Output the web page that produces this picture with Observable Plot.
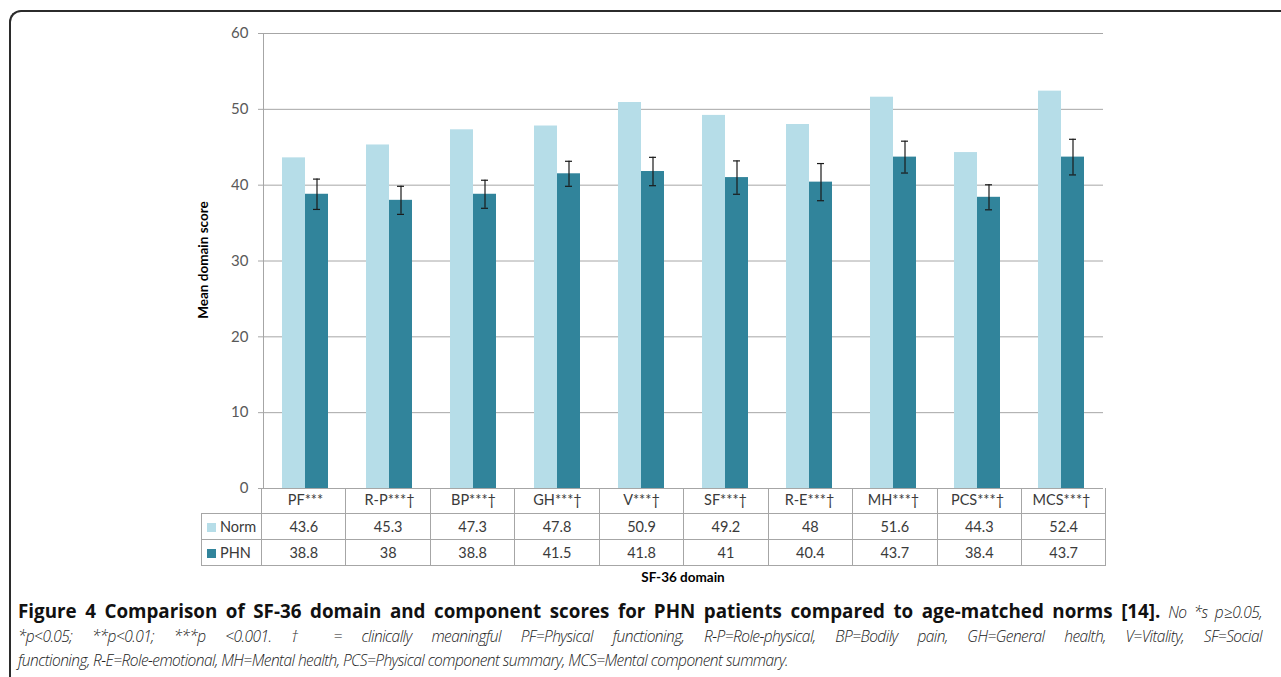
<!DOCTYPE html>
<html>
<head>
<meta charset="utf-8">
<script src="https://cdn.jsdelivr.net/npm/d3@7"></script>
<script src="https://cdn.jsdelivr.net/npm/@observablehq/plot@0.6"></script>
<style>
  html, body { margin: 0; padding: 0; background: #fff; }
  #page { position: relative; width: 1281px; height: 677px; overflow: hidden; font-family: Lato, "Open Sans", sans-serif; }
  #frame { position: absolute; left: 9px; top: 10px; width: 1400px; height: 800px; border-top: 2px solid #2b2b2b; border-left: 2px solid #2b2b2b; border-top-left-radius: 12px; box-sizing: border-box; }
  #chart { position: absolute; left: 0; top: 0; }
  #chart svg { background: transparent !important; }
  #ytitle { position: absolute; left: 203px; top: 260px; transform: translate(-50%, -50%) rotate(-90deg); font-weight: bold; font-size: 13.5px; color: #000; white-space: nowrap; }
  #xtitle { position: absolute; left: 683px; top: 577px; transform: translate(-50%, -50%); font-weight: bold; font-size: 13.5px; color: #000; white-space: nowrap; }
  #tbl { position: absolute; left: 201px; top: 488px; border-collapse: collapse; table-layout: fixed; width: 904.5px; font-size: 14.5px; color: #3a3a3a; z-index: 2; }
  #tbl td { border: 1px solid #a6a6a6; height: 25.7px; padding: 0; text-align: center; box-sizing: border-box; }
  #tbl td.leg { text-align: left; padding-left: 5px; white-space: nowrap; }
  .sw { display: inline-block; width: 9px; height: 9px; margin-right: 4px; vertical-align: 0px; }
  #caption { position: absolute; left: 18px; top: 599px; width: 1244px; font-family: "Open Sans", sans-serif; line-height: 24.5px; color: #222; }
  #caption div { white-space: nowrap; height: 24.5px; }
  #caption div.j { text-align: justify; text-align-last: justify; white-space: normal; }
  #caption b { font-weight: 700; color: #111; font-size: 18.8px; }
  #caption i { font-weight: 300; font-size: 15.5px; letter-spacing: -0.55px; }
</style>
</head>
<body>
<div id="page">
  <div id="frame"></div>
  <div id="chart"></div>
  <div id="ytitle">Mean domain score</div>
  <table id="tbl"></table>
  <div id="xtitle">SF-36 domain</div>
  <div id="caption"></div>
</div>
<script>
const categories = ["PF***", "R-P***†", "BP***†", "GH***†", "V***†", "SF***†", "R-E***†", "MH***†", "PCS***†", "MCS***†"];
const seriesNames = ["Norm", "PHN"];
const normValues = [43.6, 45.3, 47.3, 47.8, 50.9, 49.2, 48, 51.6, 44.3, 52.4];
const phnValues = [38.8, 38, 38.8, 41.5, 41.8, 41, 40.4, 43.7, 38.4, 43.7];
const phnError = [2.0, 1.85, 1.85, 1.65, 1.87, 2.2, 2.45, 2.1, 1.65, 2.35];
const normLabels = ["43.6", "45.3", "47.3", "47.8", "50.9", "49.2", "48", "51.6", "44.3", "52.4"];
const phnLabels = ["38.8", "38", "38.8", "41.5", "41.8", "41", "40.4", "43.7", "38.4", "43.7"];
const yTicks = [0, 10, 20, 30, 40, 50, 60];
const seriesColors = ["#b6dde8", "#31849b"];

const rows = [];
categories.forEach((c, i) => {
  rows.push({cat: c, series: "Norm", value: normValues[i]});
  rows.push({cat: c, series: "PHN", value: phnValues[i], lo: phnValues[i] - phnError[i], hi: phnValues[i] + phnError[i]});
});
const phnRows = rows.filter(d => d.series === "PHN");

const chart = Plot.plot({
  width: 1281,
  height: 515,
  marginLeft: 261,
  marginRight: 175.5,
  marginTop: 33,
  marginBottom: 27,
  style: {background: "transparent", fontFamily: "Lato, 'Open Sans', sans-serif"},
  fx: {domain: categories, padding: 0, label: null},
  x: {domain: seriesNames, paddingInner: 0, paddingOuter: 0.76, axis: null},
  y: {domain: [0, 60], label: null},
  color: {domain: seriesNames, range: seriesColors},
  marks: [
    Plot.gridY(yTicks, {stroke: "#a6a6a6", strokeOpacity: 1}),
    Plot.frame({anchor: "left", facetAnchor: "left", stroke: "#a6a6a6"}),
    Plot.axisY(yTicks, {tickSize: 5, tickPadding: 10, fontSize: 15, stroke: "#a6a6a6", fill: "#595959", label: null}),
    Plot.barY(rows, {fx: "cat", x: "series", y: "value", fill: "series"}),
    Plot.ruleX(phnRows, {fx: "cat", x: "series", y1: "lo", y2: "hi", stroke: "#1a1a1a", strokeWidth: 1.2}),
    Plot.tickY(phnRows, {fx: "cat", x: "series", y: "lo", stroke: "#1a1a1a", strokeWidth: 1.2, insetLeft: 8, insetRight: 8}),
    Plot.tickY(phnRows, {fx: "cat", x: "series", y: "hi", stroke: "#1a1a1a", strokeWidth: 1.2, insetLeft: 8, insetRight: 8}),
    Plot.axisFx({anchor: "bottom", tickSize: 0, tickPadding: 6, fontSize: 14.5, fill: "#3a3a3a", label: null})
  ]
});
document.getElementById("chart").appendChild(chart);

// data table under the chart
const tbl = document.getElementById("tbl");
const cg = document.createElement("colgroup");
let colHtml = '<col style="width:60px">';
categories.forEach(() => colHtml += '<col style="width:84.45px">');
cg.innerHTML = colHtml;
tbl.appendChild(cg);
const head = document.createElement("tr");
head.innerHTML = '<td style="border-top:none;border-left:none"></td>' + categories.map(() => '<td style="border-top:none"></td>').join("");
tbl.appendChild(head);
[[seriesNames[0], normLabels, seriesColors[0]], [seriesNames[1], phnLabels, seriesColors[1]]].forEach(([name, labels, col]) => {
  const tr = document.createElement("tr");
  tr.innerHTML = `<td class="leg"><span class="sw" style="background:${col}"></span>${name}</td>` + labels.map(v => `<td>${v}</td>`).join("");
  tbl.appendChild(tr);
});

document.getElementById("caption").innerHTML =
  '<div class="j"><b>Figure 4 Comparison of SF-36 domain and component scores for PHN patients compared to age-matched norms [14].</b> <i>No *s p≥0.05,</i></div>' +
  '<div class="j"><i>*p&lt;0.05; **p&lt;0.01; ***p &lt;0.001. † = clinically meaningful PF=Physical functioning, R-P=Role-physical, BP=Bodily pain, GH=General health, V=Vitality, SF=Social</i></div>' +
  '<div><i>functioning, R-E=Role-emotional, MH=Mental health, PCS=Physical component summary, MCS=Mental component summary.</i></div>';
</script>
</body>
</html>
